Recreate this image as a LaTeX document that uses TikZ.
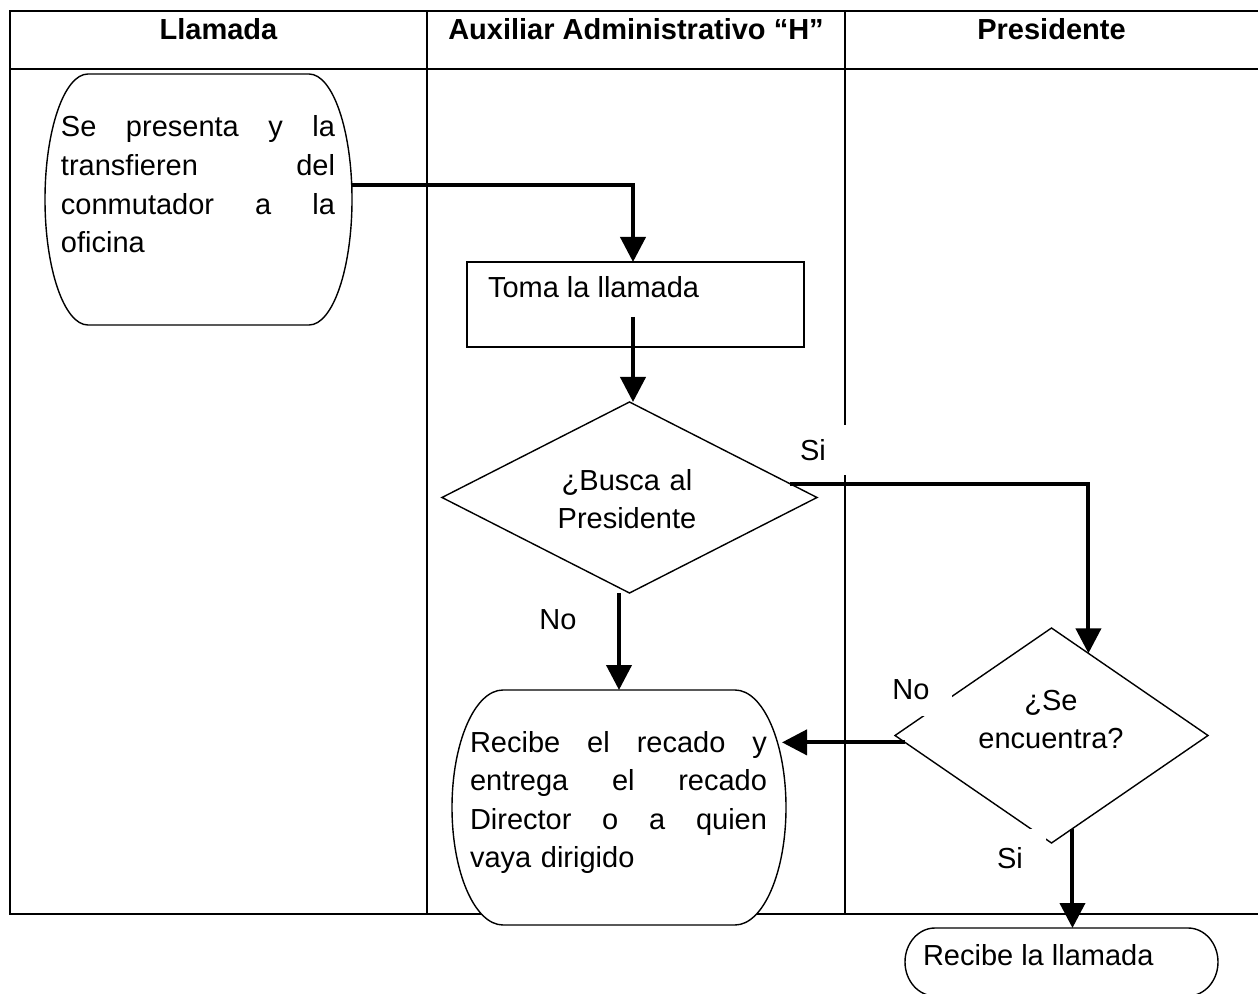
\documentclass[tikz,border=0pt]{standalone}
\usepackage{fontspec}
\setmainfont{Liberation Sans}
\usetikzlibrary{arrows.meta,calc,shapes.geometric}

% one line of a justified paragraph, spread to the given width
\newcommand\jl[2]{\makebox[#1][l]{#2}}

% terminator outline around a bounding node: flat top and bottom, half-ellipse sides
\newcommand\termoutline[3]{%
  \draw[outline] ($(#1.north west)+(#2,0)$) -- ($(#1.north east)+(-#2,0)$)
    arc[start angle=-90,end angle=90,x radius=#2,y radius=#3]
    -- ($(#1.south west)+(#2,0)$)
    arc[start angle=90,end angle=270,x radius=#2,y radius=#3] -- cycle;}

\begin{document}
\begin{tikzpicture}[x=0.5pt,y=-0.5pt,
  every node/.style={inner sep=0pt, outer sep=0pt},
  txt/.style={font=\fontsize{14.5pt}{19.3pt}\selectfont},
  head/.style={font=\fontsize{14.5pt}{19.3pt}\selectfont\bfseries, anchor=base},
  grid/.style={line width=1.2pt},
  outline/.style={line width=0.7pt, fill=white},
  shapeline/.style={draw, line width=0.7pt, fill=white},
  flow/.style={line width=2pt, -{Triangle[width=12.5pt,length=12.5pt]}},
  tag/.style={txt, fill=white},
]
\useasboundingbox (0,0) rectangle (1258,994);
\clip (0,0) rectangle (1258,994);

% swimlane table
\draw[grid] (1258,11) -- (10,11) -- (10,914) -- (1258,914);
\draw[grid] (10,69) -- (1258,69);
\draw[grid] (427,11) -- (427,914);
\draw[grid] (845,11) -- (845,914);

\node[head] (h1) at (218.5,40) {Llamada};
\node[head] (h2) at (636,40) {Auxiliar Administrativo “H”};
\node[head] (h3) at (1051.5,40) {Presidente};

% incoming call
\node[minimum width=153.5pt, minimum height=125.5pt] (t1) at (198.5,199.5) {};
\termoutline{t1}{43}{125.5}
\node[txt, text width=137pt, align=left, anchor=base west] (t1txt) at (61,137)
  {\jl{137pt}{Se\hfill presenta\hfill y\hfill la}\\
   \jl{137pt}{transfieren\hfill del}\\
   \jl{137pt}{conmutador\hfill a\hfill la}\\
   oficina};

% take the call
\node[shapeline, minimum width=168.5pt, minimum height=42.5pt] (r1) at (635.5,304.5) {};
\node[txt, anchor=base west] (r1txt) at (488,298) {Toma la llamada};

% first decision
\node[shapeline, diamond, minimum width=187.5pt, minimum height=95.5pt] (d1) at (629.5,497.5) {};
\node[txt, text width=120pt, align=center, anchor=base] (d1txt) at (627,490) {¿Busca al\\Presidente};

% message handling
\node[minimum width=167pt, minimum height=117.5pt] (t2) at (619,807.5) {};
\termoutline{t2}{51}{117.5}
\node[txt, text width=148.5pt, align=left, anchor=base west] (t2txt) at (470,752)
  {\jl{148.5pt}{Recibe\hfill el\hfill recado\hfill y}\\
   \jl{148.5pt}{entrega\hfill el\hfill recado}\\
   \jl{148.5pt}{Director\hfill o\hfill a\hfill quien}\\
   vaya dirigido};

% second decision
\node[shapeline, diamond, minimum width=156.5pt, minimum height=107.5pt] (d2) at (1051.5,735.5) {};
\node[txt, text width=100pt, align=center, anchor=base] (d2txt) at (1051,710) {¿Se\\encuentra?};

% president answers
\node[minimum width=156.5pt, minimum height=34pt] (t3) at (1061.5,962) {};
\termoutline{t3}{30}{34}
\node[txt, anchor=base west] (t3txt) at (923,965) {Recibe la llamada};

% connectors
\coordinate (a1s) at ($(t1.east)+(0,-14.5)$);
\draw[flow] (a1s) -| ($(r1.north)+(-2.5,0)$);
\draw[flow] ($(r1.south)+(-2.5,-30)$) -- ($(d1.north)+(3.5,0)$);
\draw[flow] ($(d1.north)!0.856!(d1.east)$) -| ($(d2.north)!0.236!(d2.east)$);
\draw[flow] (t2.north |- d1.south) -- (t2.north);
\coordinate (a5s) at ($(d2.west)!0.064!(d2.south)$);
\coordinate (t2r) at ($(t2.east)+(-4,0)$);
\draw[flow] (a5s) -- (a5s -| t2r);
\coordinate (a6s) at ($(d2.south)!0.134!(d2.east)$);
\draw[flow] (a6s) -- (a6s |- t3.north);

% branch labels
\node[tag, minimum width=36pt, minimum height=25pt] (si1) at (813,450) {Si};
\node[txt] (no1) at (558,620) {No};
\node[tag, minimum width=41pt, minimum height=26pt] (no2) at (911,690) {No};
\node[tag, minimum width=36pt, minimum height=29pt] (si2) at (1010,858) {Si};
\end{tikzpicture}
\end{document}
